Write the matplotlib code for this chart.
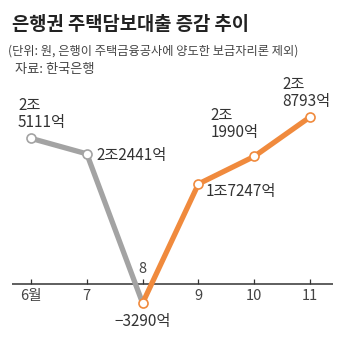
import matplotlib.pyplot as plt

plt.rcParams['font.family'] = ['Noto Sans CJK KR', 'DejaVu Sans']

# 은행권 주택담보대출 증감 (단위: 억원)
months = ['6월', '7', '8', '9', '10', '11']
values = [25111, 22441, -3290, 17247, 21990, 28793]
labels = ['2조\n5111억', '2조2441억', '−3290억', '1조7247억', '2조\n1990억', '2조\n8793억']

GREY = '#a3a3a3'
ORANGE = '#f08a3d'
TEXT = '#333333'

W = H = 340
fig = plt.figure(figsize=(3.4, 3.4), dpi=100)
ax = fig.add_axes([0, 0, 1, 1])

# pixel layout: month i sits at x = 31 + 55.8*i, zero line at y = 284 px from top
step = 55.8
x0 = 31
scale = 167 / 28793          # px per 억원
base = 284
ax.set_xlim(-x0 / step, (W - x0) / step)
ax.set_ylim((base - H) / scale, base / scale)
ax.axis('off')

xs = list(range(len(months)))

# zero line with small upward ticks
ax.plot([-19 / step, (333 - x0) / step], [0, 0], color=TEXT, lw=1.1, solid_capstyle='butt')
ax.vlines(xs, 0, 5 / scale, color=TEXT, lw=0.9)

# declining part grey, rising part orange
ax.plot(xs[:3], values[:3], color=GREY, lw=3.8, zorder=3, solid_capstyle='butt')
ax.plot(xs[2:], values[2:], color=ORANGE, lw=3.8, zorder=4, solid_capstyle='butt')
ax.plot(xs[:2], values[:2], 'o', ms=6.5, mfc='white', mec=GREY, mew=1.2, zorder=5)
ax.plot(xs[2:], values[2:], 'o', ms=6.5, mfc='white', mec=ORANGE, mew=1.2, zorder=5)

# month labels (8 goes above the line)
for i, m in enumerate(months):
    if i == 2:
        ax.text(i, 15 / scale, m, ha='center', va='center', fontsize=10.5, color='#444444')
    else:
        ax.text(i, -12 / scale, m, ha='center', va='center', fontsize=10.5, color='#444444')

# value labels
lab_kw = dict(fontsize=11, color=TEXT, linespacing=1.0)
ax.text(-13 / step, values[0] + 7 / scale, labels[0], ha='left', va='bottom', **lab_kw)
ax.text(1 + 10 / step, values[1] - 2 / scale, labels[1], ha='left', va='center', **lab_kw)
ax.text(2, values[2] - 18 / scale, labels[2], ha='center', va='center', **lab_kw)
ax.text(3 + 7 / step, values[3] - 8 / scale, labels[3], ha='left', va='center', **lab_kw)
ax.text(4 - 44 / step, values[4] + 15 / scale, labels[4], ha='left', va='bottom', **lab_kw)
ax.text(5 - 28 / step, values[5] + 7 / scale, labels[5], ha='left', va='bottom', **lab_kw)

# headings
fig.text(12 / W, 1 - 25 / H, '은행권 주택담보대출 증감 추이', fontsize=13.5,
         fontweight='bold', color='#222222', va='center', ha='left')
fig.text(8 / W, 1 - 51 / H, '(단위: 원, 은행이 주택금융공사에 양도한 보금자리론 제외)',
         fontsize=8.8, color='#444444', va='center', ha='left')
fig.text(15 / W, 1 - 69 / H, '자료: 한국은행', fontsize=9.5, color='#444444',
         va='center', ha='left')

fig.savefig('out.png', dpi=100, facecolor='white')
